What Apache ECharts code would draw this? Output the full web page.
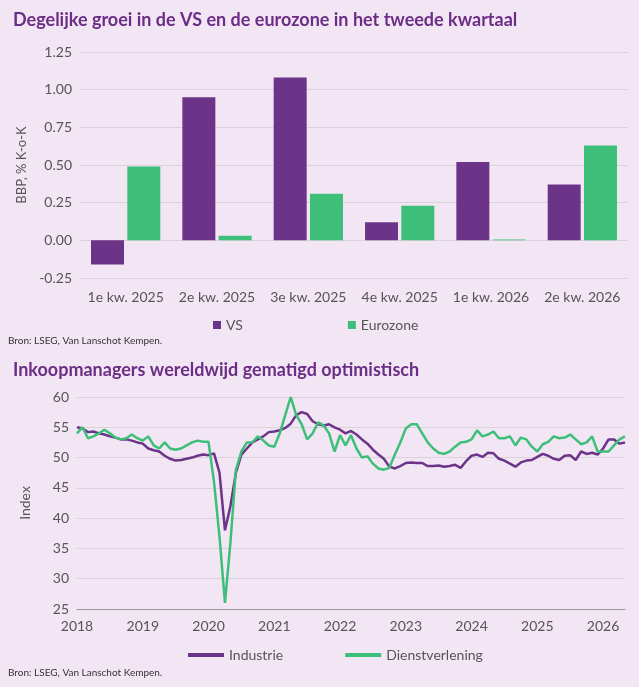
<!DOCTYPE html>
<html>
<head>
<meta charset="utf-8">
<script src="https://cdn.jsdelivr.net/npm/echarts@6/dist/echarts.min.js"></script>
<style>
  html, body { margin: 0; padding: 0; background: #f3e6f4; }
  #main { width: 639px; height: 687px; }
</style>
</head>
<body>
<div id="main"></div>
<script>
// bovenste grafiek: BBP groei
const quarters = ['1e kw. 2025', '2e kw. 2025', '3e kw. 2025', '4e kw. 2025', '1e kw. 2026', '2e kw. 2026'];
const vsGrowth = [-0.16, 0.95, 1.08, 0.12, 0.52, 0.37];
const ezGrowth = [0.49, 0.03, 0.31, 0.23, 0.005, 0.63];

// onderste grafiek: PMI, maandelijks vanaf jan 2018
const startYear = 2018;
const industrie = [
  55, 54.8, 54.2, 54.3, 54, 53.8, 53.5, 53.3, 53, 53, 52.8, 52.5,
  52.3, 51.5, 51.2, 51, 50.3, 49.8, 49.5, 49.6, 49.8, 50, 50.3, 50.5,
  50.4, 50.7, 47.5, 38, 42, 47.5, 50.5, 51.5, 52.5, 53, 53.5, 54.2,
  54.3, 54.5, 54.9, 55.6, 57, 57.5, 57.2, 56, 55.5, 55.3, 55.5, 55,
  54.6, 54, 54.4, 53.8, 53, 52.3, 51.3, 50.5, 49.8, 48.5, 48.2, 48.6,
  49.1, 49.2, 49.1, 49.1, 48.6, 48.6, 48.7, 48.5, 48.6, 48.8, 48.3, 49.4,
  50.3, 50.5, 50.1, 50.8, 50.7, 49.8, 49.5, 49, 48.5, 49.2, 49.5, 49.6,
  50.1, 50.6, 50.3, 49.8, 49.6, 50.3, 50.4, 49.6, 51, 50.6, 50.8, 50.5,
  51.5, 53, 53, 52.3, 52.5
];
const dienst = [
  54, 55, 53.2, 53.5, 54, 54.6, 54, 53.3, 53, 53.2, 53.8, 53.2,
  52.8, 53.5, 52, 51.5, 52.5, 51.5, 51.3, 51.5, 52, 52.5, 52.8, 52.6,
  52.6, 46, 37, 26, 36, 48, 51, 52.5, 52.5, 53.5, 52.8, 52,
  51.8, 54, 57, 60, 57, 55.5, 53, 54, 55.8, 55.3, 54, 51,
  53.7, 52, 53.7, 51.5, 50, 50.2, 49, 48.2, 48, 48.3, 50.5, 52.5,
  54.8, 55.5, 55.5, 54, 52.5, 51.5, 50.8, 50.6, 51, 51.8, 52.5, 52.6,
  53, 54.5, 53.5, 53.8, 54.3, 53.2, 53.2, 53.5, 52, 53.3, 53, 51.8,
  51, 52.2, 52.6, 53.5, 53.2, 53.3, 53.8, 53, 52.2, 52.5, 53.5, 51,
  51, 51, 52, 53, 53.5
];
const yearTicks = [2018, 2019, 2020, 2021, 2022, 2023, 2024, 2025, 2026];

const purple = '#6b3488';
const green = '#3dbf7a';
const titleColor = '#6b2d86';
const textColor = '#555';
const font = 'Lato';

const toPoints = arr => arr.map((v, i) => [startYear + i / 12, v]);

const chart = echarts.init(document.getElementById('main'));
chart.setOption({
  backgroundColor: '#f3e6f4',
  textStyle: { fontFamily: font },
  title: [
    { text: 'Degelijke groei in de VS en de eurozone in het tweede kwartaal', left: 8, top: 6,
      textStyle: { color: titleColor, fontSize: 18, fontWeight: 'bold', fontFamily: font } },
    { text: 'Inkoopmanagers wereldwijd gematigd optimistisch', left: 8, top: 356,
      textStyle: { color: titleColor, fontSize: 18, fontWeight: 'bold', fontFamily: font } }
  ],
  graphic: [
    { type: 'text', left: 8, top: 336, style: { text: 'Bron: LSEG, Van Lanschot Kempen.', fill: '#333', font: '10px Lato' } },
    { type: 'text', left: 8, top: 668, style: { text: 'Bron: LSEG, Van Lanschot Kempen.', fill: '#333', font: '10px Lato' } }
  ],
  legend: [
    { data: ['VS', 'Eurozone'], top: 313, left: 208, itemGap: 105, itemWidth: 8, itemHeight: 8, icon: 'rect',
      textStyle: { color: textColor, fontSize: 14, fontFamily: font } },
    { data: ['Industrie', 'Dienstverlening'], top: 643, left: 183, itemGap: 62, itemWidth: 36, itemHeight: 4,
      icon: 'rect', textStyle: { color: textColor, fontSize: 14, fontFamily: font } }
  ],
  grid: [
    { left: 80, right: 11, top: 52, height: 226 },
    { left: 77, right: 14, top: 397, height: 212 }
  ],
  xAxis: [
    { gridIndex: 0, type: 'category', data: quarters,
      axisLine: { show: false }, axisTick: { show: false },
      axisLabel: { color: textColor, fontSize: 14, margin: 12, interval: 0 } },
    { gridIndex: 1, type: 'value', min: 2018, max: 2026 + 4 / 12, interval: 1,
      axisLine: { show: true, lineStyle: { color: '#999' } }, axisTick: { show: false }, splitLine: { show: false },
      axisLabel: { color: textColor, fontSize: 14, margin: 10, showMaxLabel: false,
        formatter: v => yearTicks.includes(Math.round(v)) ? String(Math.round(v)) : '' } }
  ],
  yAxis: [
    { gridIndex: 0, type: 'value', min: -0.25, max: 1.25, interval: 0.25,
      name: 'BBP, % K-o-K', nameLocation: 'middle', nameGap: 52, nameTextStyle: { color: textColor, fontSize: 13 },
      axisLine: { show: false }, axisTick: { show: false },
      axisLabel: { color: textColor, fontSize: 14, formatter: v => v.toFixed(2) },
      splitLine: { lineStyle: { color: '#d9d2da' } } },
    { gridIndex: 1, type: 'value', min: 25, max: 60, interval: 5,
      name: 'Index', nameLocation: 'middle', nameGap: 45, nameTextStyle: { color: textColor, fontSize: 14 },
      axisLine: { show: false }, axisTick: { show: false },
      axisLabel: { color: textColor, fontSize: 14 },
      splitLine: { lineStyle: { color: '#d9d2da' } } }
  ],
  series: [
    { name: 'VS', type: 'bar', xAxisIndex: 0, yAxisIndex: 0, data: vsGrowth,
      itemStyle: { color: purple }, barWidth: 33, barGap: '10%' },
    { name: 'Eurozone', type: 'bar', xAxisIndex: 0, yAxisIndex: 0, data: ezGrowth,
      itemStyle: { color: green }, barWidth: 33 },
    { name: 'Industrie', type: 'line', xAxisIndex: 1, yAxisIndex: 1, data: toPoints(industrie),
      showSymbol: false, lineStyle: { color: purple, width: 2.5 }, itemStyle: { color: purple } },
    { name: 'Dienstverlening', type: 'line', xAxisIndex: 1, yAxisIndex: 1, data: toPoints(dienst),
      showSymbol: false, lineStyle: { color: green, width: 2.5 }, itemStyle: { color: green } }
  ]
});
</script>
</body>
</html>
